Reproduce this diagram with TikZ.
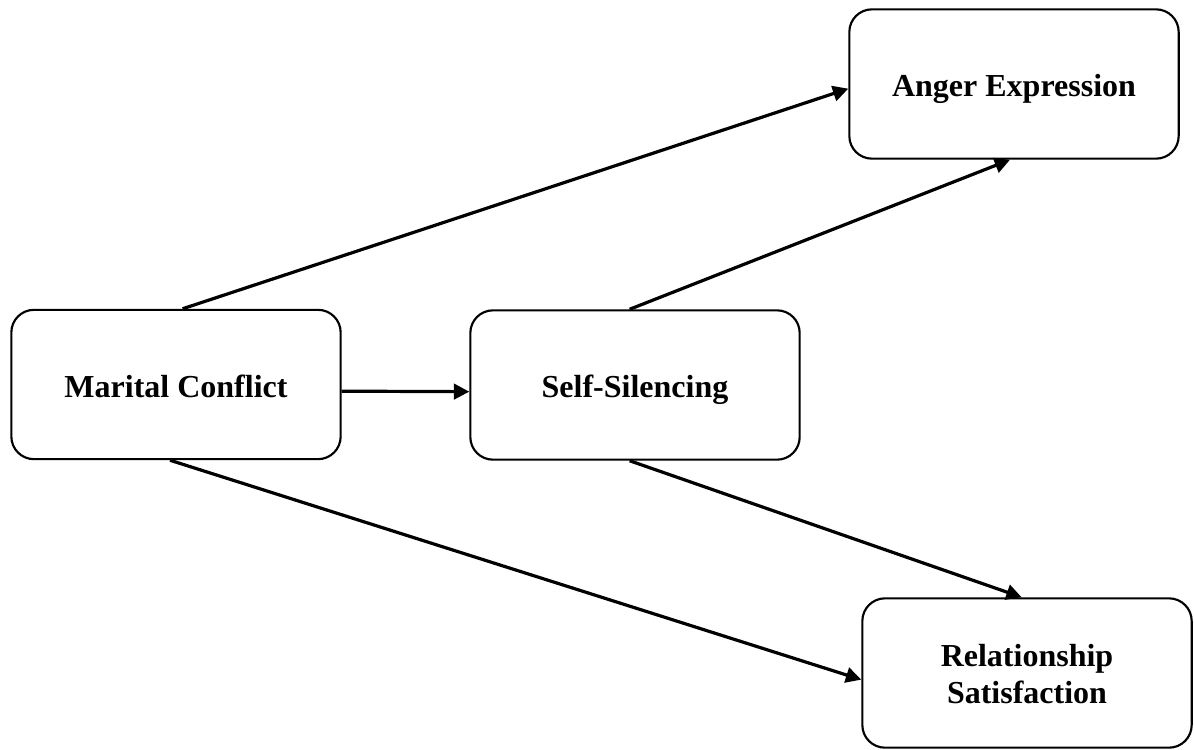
\documentclass[tikz,border=0pt]{standalone}
\usepackage{fontspec}
\setmainfont{Liberation Serif}
\usetikzlibrary{arrows.meta}
\tikzset{
    var/.style={draw, line width=1.6pt, rounded corners=17pt, minimum width=247pt,
        minimum height=112pt, align=center, text height=18.8pt, text depth=0pt,
        font=\fontsize{24}{27.75}\selectfont\bfseries},
    path/.style={line width=2.4pt, -{Triangle[length=11.5pt,width=11.5pt]}}
}
\begin{document}
\begin{tikzpicture}[x=0.75pt,y=-0.75pt]
\useasboundingbox (0,0) rectangle (1194,749);
\node[var] (mc) at (176,384.5) {Marital Conflict};
\node[var] (ss) at (635,385) {Self-Silencing};
\node[var] (ae) at (1014,84) {Anger Expression};
\node[var, text height=46.2pt] (rs) at (1027,673) {Relationship\\Satisfaction};
\draw[path] ([xshift=5pt]mc.north) -- ([yshift=-3.5pt]ae.west);
\draw[path] ([yshift=-5pt]mc.east) -- ([yshift=-5pt]ss.west);
\draw[path] ([xshift=-4pt]ss.north) -- ([xshift=-3pt]ae.south);
\draw[path] ([xshift=-4.5pt]mc.south) -- ([yshift=-5pt]rs.west);
\draw[path] ([xshift=-4pt]ss.south) -- ([xshift=-4pt]rs.north);
\end{tikzpicture}
\end{document}
